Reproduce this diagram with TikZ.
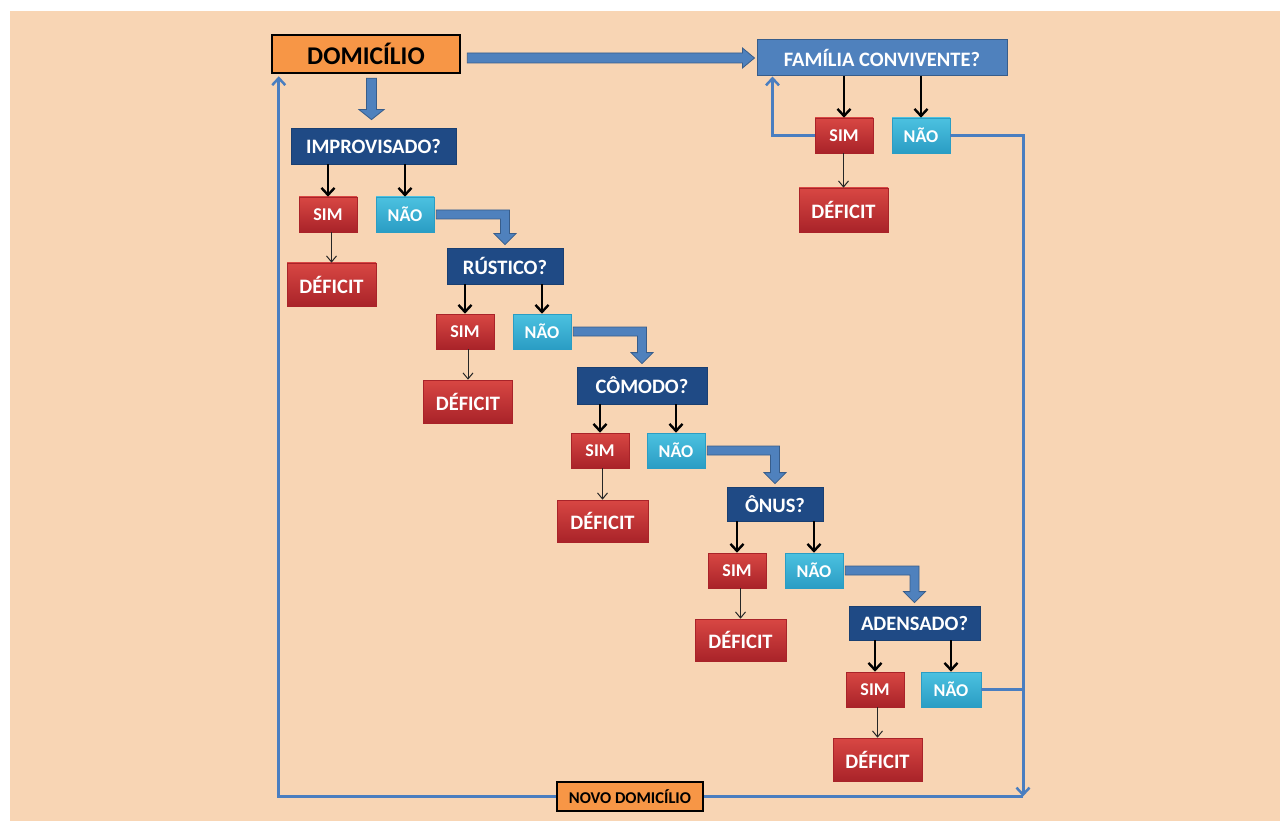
\documentclass[tikz,border=0pt]{standalone}
\usepackage{fontspec}
\setmainfont{Carlito}
\usetikzlibrary{arrows.meta,calc}
\definecolor{bg}{HTML}{F8D5B4}
\definecolor{qblue}{HTML}{1F4A85}
\definecolor{fblue}{HTML}{4F81BD}
\definecolor{lblue}{HTML}{4A7EC0}
\definecolor{bborder}{HTML}{385D8A}
\definecolor{redtop}{HTML}{D84743}
\definecolor{redbot}{HTML}{A92329}
\definecolor{cyantop}{HTML}{4CC1E0}
\definecolor{cyanbot}{HTML}{2A9DC4}
\definecolor{orng}{HTML}{F79646}
\newcommand\fs[1]{\fontsize{#1}{#1}\selectfont}
\newcommand\bentarr[2]{%
  \path[barrow] let \p1=(#1.east), \p2=(#2.north) in
  (\x1+2pt,\y1+4.5pt) -- (\x2+4.5pt,\y1+4.5pt) -- (\x2+4.5pt,\y2+14pt) -- (\x2+11pt,\y2+14pt)
  -- (\x2,\y2+3pt) -- (\x2-11pt,\y2+14pt) -- (\x2-4.5pt,\y2+14pt) -- (\x2-4.5pt,\y1-4.5pt)
  -- (\x1+2pt,\y1-4.5pt) -- cycle;}
\begin{document}
\begin{tikzpicture}[x=1pt,y=-1pt,
  box/.style={rectangle, inner sep=0pt, font=\bfseries, text=white},
  qbox/.style={box, fill=qblue, draw=qblue!85!black, line width=0.8pt, font=\bfseries\fs{20.5}},
  fbox/.style={box, fill=fblue, draw=bborder, line width=1pt, font=\bfseries\fs{20.5}},
  simbox/.style={box, top color=redtop, bottom color=redbot, draw=redbot, line width=0.6pt,
    minimum width=58pt, minimum height=35pt, font=\bfseries\fs{18}},
  naobox/.style={box, top color=cyantop, bottom color=cyanbot, draw=cyanbot, line width=0.6pt,
    minimum width=58pt, minimum height=35pt, font=\bfseries\fs{18}},
  defbox/.style={box, top color=redtop, bottom color=redbot, draw=redbot, line width=0.6pt,
    minimum width=89pt, minimum height=43pt, font=\bfseries\fs{20.5}},
  obox/.style={box, fill=orng, draw=black, text=black},
  barrow/.style={fill=fblue, draw=bborder, line width=0.8pt, line join=miter},
  blk/.style={line width=2.6pt, black, -{Straight Barb[length=7pt,width=13pt,line width=2.4pt]}},
  thn/.style={line width=1pt, black!85, -{Straight Barb[length=6pt,width=10pt,line width=1pt]}},
  bl/.style={line width=3pt, lblue, line join=miter},
  bla/.style={bl, -{Straight Barb[length=7pt,width=13pt,line width=2.5pt]}}
]
\useasboundingbox (0,0) rectangle (1280,821);
\fill[white] (-5,-5) rectangle (1290,830);
\fill[bg] (10,11) rectangle (1290,830);

% top nodes
\node[obox, line width=2.5pt, minimum width=188pt, minimum height=38pt, font=\bfseries\fs{25.5}] (dom) at (366,54) {DOMICÍLIO};
\node[fbox, minimum width=250pt, minimum height=36pt] (fam) at (882,58) {FAMÍLIA CONVIVENTE?};
\node[simbox] (fs) at (844,135.5) {SIM};
\node[naobox] (fn) at (921,135.5) {NÃO};
\node[defbox, minimum height=44pt] (fd) at (843.5,210) {DÉFICIT};

% cascade
\node[qbox, minimum width=165pt, minimum height=36pt] (imp) at (373.5,146) {IMPROVISADO?};
\node[simbox] (s1) at (328,214.5) {SIM};
\node[naobox] (n1) at (405,214.5) {NÃO};
\node[defbox] (d1) at (331.5,284.5) {DÉFICIT};

\node[qbox, minimum width=116pt, minimum height=36pt] (rus) at (505,266) {RÚSTICO?};
\node[simbox] (s2) at (465,331.5) {SIM};
\node[naobox] (n2) at (542,331.5) {NÃO};
\node[defbox] (d2) at (468,401.5) {DÉFICIT};

\node[qbox, minimum width=130pt, minimum height=37pt] (com) at (642,385.5) {CÔMODO?};
\node[simbox] (s3) at (600,450.5) {SIM};
\node[naobox] (n3) at (676,450.5) {NÃO};
\node[defbox, minimum width=91pt, minimum height=42pt] (d3) at (602.5,521) {DÉFICIT};

\node[qbox, minimum width=96pt, minimum height=34pt] (onus) at (775,504) {ÔNUS?};
\node[simbox] (s4) at (737,570.5) {SIM};
\node[naobox] (n4) at (814,570.5) {NÃO};
\node[defbox, minimum width=91pt, minimum height=42pt] (d4) at (740.5,640) {DÉFICIT};

\node[qbox, minimum width=131pt, minimum height=34pt] (aden) at (914.5,623) {ADENSADO?};
\node[simbox] (s5) at (875,689.5) {SIM};
\node[naobox, minimum width=60pt] (n5) at (951,689.5) {NÃO};
\node[defbox] (d5) at (877.5,759.5) {DÉFICIT};

\node[obox, line width=2pt, minimum width=146pt, minimum height=29pt, font=\bfseries\fs{16.5}] (novo) at (630,796.5) {NOVO DOMICÍLIO};

% block arrows
\path[barrow] let \p1=(dom.east), \p2=(fam.west) in
  (\x1+6pt,\y2+5pt) -- (\x2-14pt,\y2+5pt) -- (\x2-14pt,\y2+10pt) -- (\x2-2pt,\y2)
  -- (\x2-14pt,\y2-10pt) -- (\x2-14pt,\y2-5pt) -- (\x1+6pt,\y2-5pt) -- cycle;
\path[barrow] let \p1=(dom.south), \p2=(imp.north) in
  (\x2-7pt,\y1-4pt) -- (\x2+3pt,\y1-4pt) -- (\x2+3pt,\y2+18pt) -- (\x2+10.5pt,\y2+18pt)
  -- (\x2-2pt,\y2+8pt) -- (\x2-14.5pt,\y2+18pt) -- (\x2-7pt,\y2+18pt) -- cycle;
\bentarr{n1}{rus}
\bentarr{n2}{com}
\bentarr{n3}{onus}
\bentarr{n4}{aden}

% decision arrows
\foreach \p/\s/\n in {fam/fs/fn, imp/s1/n1, rus/s2/n2, com/s3/n3, onus/s4/n4, aden/s5/n5}{
  \draw[blk] (\s.north |- \p.south) -- (\s.north);
  \draw[blk] (\n.north |- \p.south) -- (\n.north);
}
\foreach \s/\d in {fs/fd, s1/d1, s2/d2, s3/d3, s4/d4, s5/d5}{
  \draw[thn] (\d.north |- \s.south) -- (\d.north);
}

% blue loop lines
\coordinate (rc) at (1023,796.5);
\coordinate (fup) at ($(fam.south west)+(16,0)$);
\coordinate (dup) at ($(dom.south west)+(8,0)$);
\draw[bla] (fs.west) -| (fup);
\draw[bla] (fn.east) -| (rc);
\draw[bl] (n5.east) -- (n5.east -| rc);
\draw[bl] (rc) -- (novo.east);
\draw[bla, shorten >=2pt] (novo.west) -| (dup);
\end{tikzpicture}
\end{document}
